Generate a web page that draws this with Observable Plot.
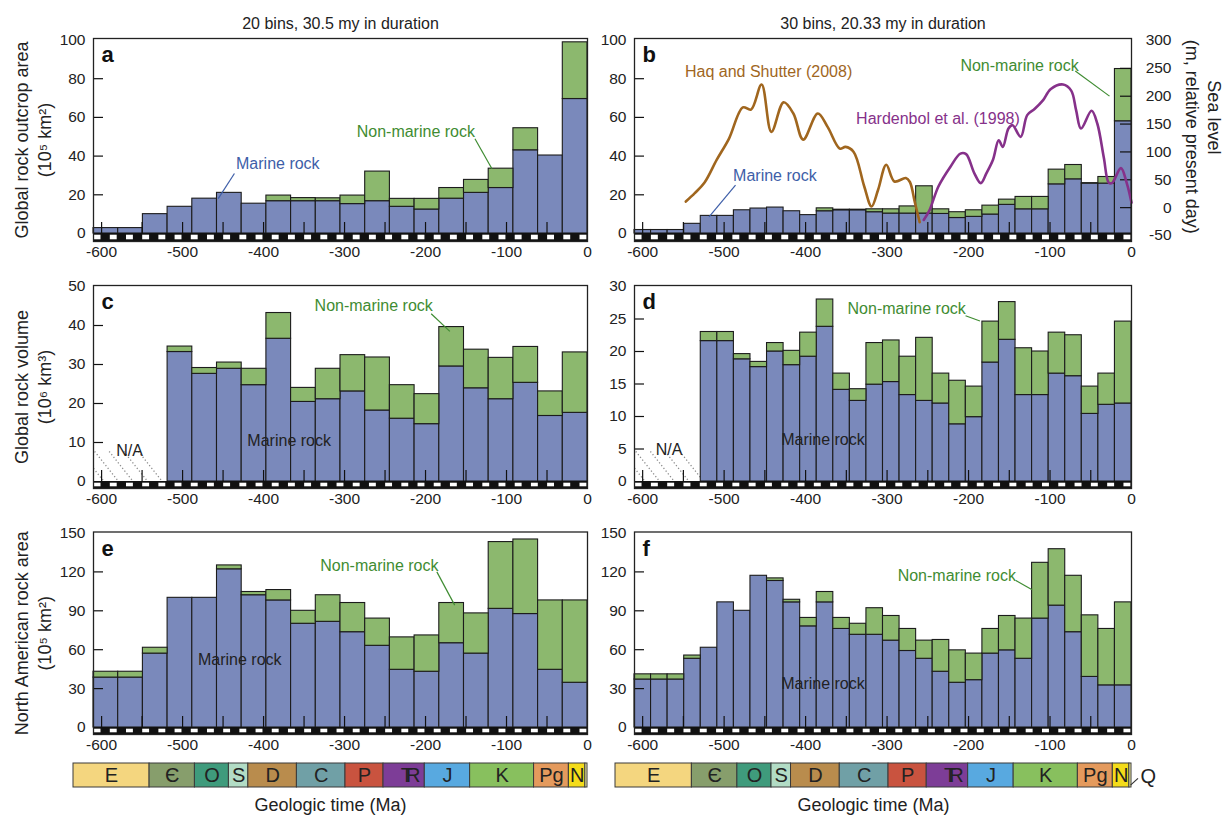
<!DOCTYPE html>
<html><head><meta charset="utf-8">
<script src="https://cdn.jsdelivr.net/npm/d3@7"></script>
<script src="https://cdn.jsdelivr.net/npm/@observablehq/plot@0.6"></script>
<style>
html,body{margin:0;padding:0;background:#fff;}
#fig{position:relative;width:1230px;height:824px;overflow:hidden;background:#fff;}
#fig svg{position:absolute;max-width:none;}
</style></head><body><div id="fig"></div>
<script>
// ---------------- DATA ----------------
const START = -610;           // Ma, start of binned interval (610 my total)
// Panel a: 20 bins (30.5 my) global outcrop area, 10^5 km^2
const aMarine = [2.8,2.8,10,13.8,18,21,15.4,16.7,16.7,16.7,15.2,16.7,13.8,12.4,18,21,23.5,43,40.3,69.5];
const aTotal  = [2.8,2.8,10,13.8,18,21,15.4,19.6,18.3,18.2,19.6,32,17.9,17.9,23.5,27.7,33.5,54.4,40.3,98.8];
// Panel b: 30 bins (20.33 my)
const bMarine = [1.8,1.8,1.8,5,9.1,9.1,12,12.9,13.4,11.5,9.5,11.5,12,12,11,10.3,10.3,10.3,10.1,8,8.6,9.8,14.8,12.5,12.5,25.4,28,25.8,25.8,58];
const bTotal  = [1.8,1.8,1.8,5,9.1,9.1,12,12.9,13.4,11.5,9.5,13,12.3,12.3,12.5,12.5,14,24.4,12.5,11,12,14.4,17.5,18.9,18.9,33,35.4,26,29.2,85];
// Panel c: global rock volume, 10^6 km^3 (first bins N/A)
const cMarine = [null,null,null,33.2,27.6,28.9,24.7,36.6,20.4,21.1,23.1,18.2,16.1,14.7,29.5,23.9,21.1,25.3,16.8,17.6];
const cTotal  = [null,null,null,34.6,29.1,30.5,28.9,43.2,24,28.9,32.4,31.8,24.7,22.4,39.6,33.8,31.7,34.5,23.1,33.1];
// Panel d
const dMarine = [null,null,null,null,21.6,21.6,18.8,17.6,20,17.9,19.2,23.8,14.1,12.4,14.9,15.3,13.3,12.4,12,8.8,9.9,18.3,21.8,13.3,13.3,16.6,16.2,10.4,11.8,12];
const dTotal  = [null,null,null,null,23,23,19.6,18.4,21.3,20.1,22.9,28,16.6,14.2,21.3,21.7,19.2,22.1,16.6,15.5,14.6,24.6,27.6,20.5,20,22.9,22.5,14.6,16.6,24.6];
// Panel e: North American rock area, 10^5 km^2
const eMarine = [38.5,38.5,57,100,100,122,102,98,80,81.5,73.5,63,44.5,43,65,57,91.5,87.5,44.5,34.5];
const eTotal  = [43,43,61.5,100,100,125,104.5,106,90,102,96,84,69.5,71,96,88,143,145,98,98];
// Panel f
const fMarine = [37,37,37,53,61.5,96.5,90,117,113,96.5,78,96.5,76,71.5,71.5,67,59,53,43,34.5,36.5,57,59.5,53,84,94,73.5,39,32.5,32.5];
const fTotal  = [41,41,41,55.5,61.5,96.5,90,117,115,98.5,84.5,104.5,84.5,80,92,86,76,67,67.5,59.5,57,76,86,84,127,137.5,117,86.5,76,96.5];
// Sea level curves (m, relative to present day)
const haqMa = [-547,-536,-524,-509,-494,-477,-467,-454,-442,-427,-415,-403,-385,-373,-358,-351,-341,-328,-319,-311,-301,-291,-277,-272,-266,-260];
const haqSL = [11,26,45,86,124,180,176,221,136,189,169,122,169,145,106,109,100,38,2,32,77,47,53,46,10,-26];
const hardMa = [-255,-248,-237,-222,-210,-203,-193,-185,-178,-170,-163,-158,-151,-146,-136,-128,-119,-109,-99,-84,-74,-68,-62,-49,-42,-34,-28,-24,-13,-6,0];
const hardSL = [-22,-5,38,74,97,96,62,44,62,86,121,109,142,148,127,166,177,192,213,221,210,175,142,174,151,90,45,44,71,45,9];
// Ticks
const xTicks = [-600,-500,-400,-300,-200,-100,0];
const xMinorTicks = [-600,-550,-500,-450,-400,-350,-300,-250,-200,-150,-100,-50];
const slTicks = [300,250,200,150,100,50,0,-50];
// Geologic timescale
const periodNames  = ["E","Є","O","S","D","C","P","TR","J","K","Pg","N","Q"];
const periodStart  = [-635,-541,-485,-443,-419,-359,-299,-252,-201,-145,-66,-23,-2.6];
const periodEnd    = [-541,-485,-443,-419,-359,-299,-252,-201,-145,-66,-23,-2.6,0];
const periodColors = ["#f4d67f","#879e6c","#3f9b7c","#b2dcc5","#b98c4d","#70a0a6","#c9533f","#7d3d97","#58a9e0","#88c05e","#e49a5d","#f4dc1a","#f7f3a8"];

// ---------------- STYLE ----------------
const FONT = '"Liberation Sans", Arial, Helvetica, sans-serif';
const BLUE = "#7a89bb", GREEN = "#8cb86e", EDGE = "#1c1c1c", TXT = "#222";
const MB = "#3e5ea8", NM = "#3f8c32", DK = "#222", HAQ = "#a0661e", HARD = "#86318a";

// annotation anchors (data coordinates)
const aNotes = [{t:"Marine rock",x:-434,y:36,c:MB},{t:"Non-marine rock",x:-285,y:52.4,c:NM}];
const aLeads = [{x1:-436,y1:31,x2:-456,y2:18,c:MB},{x1:-139,y1:49,x2:-118,y2:33.5,c:NM}];
const bNotes = [{t:"Haq and Shutter (2008)",x:-548,y:83.3,c:HAQ},{t:"Hardenbol et al. (1998)",x:-338,y:59.3,c:HARD},{t:"Non-marine rock",x:-210,y:86.8,c:NM},{t:"Marine rock",x:-489,y:30,c:MB}];
const bLeads = [{x1:-69,y1:84,x2:-27,y2:71,c:NM},{x1:-486,y1:25,x2:-518.5,y2:8.6,c:MB}];
const cNotes = [{t:"Non-marine rock",x:-337,y:45,c:NM},{t:"Marine rock",x:-420,y:10.3,c:DK},{t:"N/A",x:-582,y:7.9,c:DK}];
const cLeads = [{x1:-193,y1:43,x2:-170,y2:38.5,c:NM}];
const dNotes = [{t:"Non-marine rock",x:-348.5,y:26.6,c:NM},{t:"Marine rock",x:-430,y:6.4,c:DK},{t:"N/A",x:-584,y:4.9,c:DK}];
const dLeads = [{x1:-203.7,y1:25.5,x2:-186,y2:24.7,c:NM}];
const eNotes = [{t:"Non-marine rock",x:-330,y:125,c:NM},{t:"Marine rock",x:-481,y:52,c:DK}];
const eLeads = [{x1:-186,y1:120,x2:-164,y2:94.4,c:NM}];
const fNotes = [{t:"Non-marine rock",x:-287,y:117,c:NM},{t:"Marine rock",x:-430,y:33.5,c:DK}];
const fLeads = [{x1:-142,y1:113.4,x2:-122,y2:106.2,c:NM}];

// ---------------- LAYOUT ----------------
const cols = {
  left:  {svgLeft: 0,   svgWidth: 600, frameL: 93,  frameR: 587, tsL: 73},
  right: {svgLeft: 600, svgWidth: 630, frameL: 634, frameR: 1131, tsL: 615}
};
const rows = [
  {svgTop: 0,   svgHeight: 262, frameT: 38,    maxY: 39.5,  zeroY: 233, frameB: 241},
  {svgTop: 262, svgHeight: 250, frameT: 285,   maxY: 286,   zeroY: 481, frameB: 488},
  {svgTop: 510, svgHeight: 250, frameT: 531.5, maxY: 532.5, zeroY: 727, frameB: 734}
];
const fig = document.getElementById("fig");
function place(svg, left, top) {
  svg.style.position = "absolute"; svg.style.left = left + "px"; svg.style.top = top + "px";
  fig.appendChild(svg);
}
const baseStyle = {fontFamily: FONT, fontSize: "16px", background: "transparent", overflow: "visible", maxWidth: "none"};
const hatchEnds = [-597, -579, -561, -543, -525];

function panel(cfg) {
  const c = cols[cfg.col], r = rows[cfg.row];
  const n = cfg.marine.length, w = 610 / n;
  const ppu = (r.zeroY - r.maxY) / cfg.yMax;
  const yLo = -(r.frameB - r.zeroY) / ppu, yHi = (r.zeroY - r.frameT) / ppu;
  const pxMa = (c.frameR - c.frameL) / 610;
  const bins = cfg.marine.map((m, i) => ({x1: START + i * w, x2: START + (i + 1) * w, m, t: cfg.total[i]}));
  const present = bins.filter(d => d.m != null);
  const green = present.filter(d => d.t > d.m + 0.05);
  const segs = d3.range(61).map(i => ({x1: START + i * 10, x2: START + (i + 1) * 10})).filter((d, i) => i % 2 === 0);
  const marks = [];
  const nNull = bins.filter(d => d.m == null).length;
  if (nNull > 0) {
    const regionEnd = START + nNull * w, H = 30 / ppu, L = 24 / pxMa;
    const hatch = hatchEnds.map(xe => {
      const xs = xe - L;
      const t0 = Math.max(0, (START - xs) / L), t1 = Math.min(1, (regionEnd - xs) / L);
      return t0 < t1 ? {x1: xs + L * t0, y1: H * (1 - t0), x2: xs + L * t1, y2: H * (1 - t1)} : null;
    }).filter(Boolean);
    marks.push(Plot.link(hatch, {x1: "x1", y1: "y1", x2: "x2", y2: "y2", stroke: "#8a8a8a", strokeWidth: 1.3, strokeDasharray: "1.2,2.3"}));
  }
  marks.push(Plot.rect(present, {x1: "x1", x2: "x2", y1: 0, y2: "m", fill: BLUE, stroke: EDGE, strokeWidth: 1.1}));
  marks.push(Plot.rect(green, {x1: "x1", x2: "x2", y1: "m", y2: "t", fill: GREEN, stroke: EDGE, strokeWidth: 1.1}));
  // black & white time strip
  marks.push(Plot.rect([0], {x1: START, x2: 0, y1: yLo, y2: 0, fill: "#111"}));
  marks.push(Plot.rect(segs, {x1: "x1", x2: "x2", y1: yLo, y2: 0, fill: "white", insetTop: 1.7, insetBottom: 1.7, insetLeft: 0.6, insetRight: 0.6}));
  // inner ticks
  marks.push(Plot.ruleX(xMinorTicks, {x: d => d, y1: 0, y2: 11 / ppu, stroke: "#111", strokeWidth: 1.2}));
  marks.push(Plot.ruleY(cfg.yTicks.filter(v => v > 0 && v < cfg.yMax), {y: d => d, x1: START, x2: START + 10 / pxMa, stroke: "#111", strokeWidth: 1.2}));
  if (cfg.seaLevel) {
    const slToLeft = s => -1.03 + (s + 50) * (100.77 / 350);
    marks.push(Plot.ruleY(slTicks.filter(v => v > -50 && v < 300), {y: slToLeft, x1: -11 / pxMa, x2: 0, stroke: "#111", strokeWidth: 1.2}));
    const haq = haqMa.map((x, i) => ({x, s: haqSL[i]}));
    const hard = hardMa.map((x, i) => ({x, s: hardSL[i]}));
    marks.push(Plot.line(haq, {x: "x", y: d => slToLeft(d.s), stroke: HAQ, strokeWidth: 2.6, curve: "catmull-rom"}));
    marks.push(Plot.line(hard, {x: "x", y: d => slToLeft(d.s), stroke: HARD, strokeWidth: 2.6, curve: "catmull-rom"}));
    marks.push(Plot.text(slTicks, {y: slToLeft, frameAnchor: "right", textAnchor: "end", dx: 40, text: d => String(d), fill: TXT, fontSize: 15.5}));
    marks.push(Plot.text(["Sea level"], {frameAnchor: "right", textAnchor: "middle", y: 60, dx: 82, rotate: 90, text: d => d, fill: TXT, fontSize: 18}));
    marks.push(Plot.text(["(m, relative present day)"], {frameAnchor: "right", textAnchor: "middle", y: 50, dx: 60, rotate: 90, text: d => d, fill: TXT, fontSize: 18}));
  }
  marks.push(Plot.link(cfg.leads, {x1: "x1", y1: "y1", x2: "x2", y2: "y2", stroke: "c", strokeWidth: 1.2}));
  marks.push(Plot.text(cfg.notes, {x: "x", y: "y", text: "t", fill: "c", textAnchor: "start", fontSize: 16}));
  // tick labels
  marks.push(Plot.text(xTicks, {x: d => d, frameAnchor: "bottom", lineAnchor: "top", dy: 4, text: d => String(d), fill: TXT, fontSize: 15.5}));
  marks.push(Plot.text(cfg.yTicks, {y: d => d, frameAnchor: "left", textAnchor: "end", dx: -8, text: d => String(d), fill: TXT, fontSize: 15.5}));
  if (cfg.yTitle) {
    marks.push(Plot.text([cfg.yTitle[0]], {frameAnchor: "left", textAnchor: "middle", dx: -71, rotate: -90, text: d => d, fill: TXT, fontSize: 18}));
    marks.push(Plot.text([cfg.yTitle[1]], {frameAnchor: "left", textAnchor: "middle", dx: -48, rotate: -90, text: d => d, fill: TXT, fontSize: 18}));
  }
  if (cfg.title) marks.push(Plot.text([cfg.title], {frameAnchor: "top", dy: -21, text: d => d, fill: TXT, fontSize: 16}));
  marks.push(Plot.frame({stroke: "#222", strokeWidth: 1.3}));
  marks.push(Plot.text([cfg.letter], {frameAnchor: "top-left", dx: 8, dy: 8, lineAnchor: "top", textAnchor: "start", text: d => d, fill: "#111", fontWeight: "bold", fontSize: 22}));
  const svg = Plot.plot({
    width: c.svgWidth, height: r.svgHeight,
    marginLeft: c.frameL - c.svgLeft, marginRight: c.svgLeft + c.svgWidth - c.frameR,
    marginTop: r.frameT - r.svgTop, marginBottom: r.svgTop + r.svgHeight - r.frameB,
    x: {domain: [START, 0], axis: null},
    y: {domain: [yLo, yHi], axis: null},
    color: {type: "identity"},
    style: baseStyle,
    marks
  });
  place(svg, c.svgLeft, r.svgTop);
}

panel({col: "left", row: 0, yMax: 100, yTicks: [0,20,40,60,80,100], marine: aMarine, total: aTotal, letter: "a",
  title: "20 bins, 30.5 my in duration", yTitle: ["Global rock outcrop area", "(10⁵ km²)"], notes: aNotes, leads: aLeads});
panel({col: "right", row: 0, yMax: 100, yTicks: [0,20,40,60,80,100], marine: bMarine, total: bTotal, letter: "b",
  title: "30 bins, 20.33 my in duration", seaLevel: true, notes: bNotes, leads: bLeads});
panel({col: "left", row: 1, yMax: 50, yTicks: [0,10,20,30,40,50], marine: cMarine, total: cTotal, letter: "c",
  yTitle: ["Global rock volume", "(10⁶ km³)"], notes: cNotes, leads: cLeads});
panel({col: "right", row: 1, yMax: 30, yTicks: [0,5,10,15,20,25,30], marine: dMarine, total: dTotal, letter: "d",
  notes: dNotes, leads: dLeads});
panel({col: "left", row: 2, yMax: 150, yTicks: [0,30,60,90,120,150], marine: eMarine, total: eTotal, letter: "e",
  yTitle: ["North American rock area", "(10⁵ km²)"], notes: eNotes, leads: eLeads});
panel({col: "right", row: 2, yMax: 150, yTicks: [0,30,60,90,120,150], marine: fMarine, total: fTotal, letter: "f",
  notes: fNotes, leads: fLeads});

function timescale(col) {
  const c = cols[col];
  const periods = periodNames.map((name, i) => ({name, x1: periodStart[i], x2: periodEnd[i], mid: (periodStart[i] + periodEnd[i]) / 2, color: periodColors[i]}));
  const labelled = periods.filter(p => p.name !== "Q");
  const marks = [
    Plot.rect(periods, {x1: "x1", x2: "x2", y1: 0, y2: 1, fill: "color", stroke: "#3a3a3a", strokeWidth: 1}),
    Plot.text(labelled, {x: "mid", y: 0.5, text: "name", fill: "#222", fontSize: 20}),
    Plot.text(["Geologic time (Ma)"], {frameAnchor: "bottom", dy: 23, text: d => d, fill: TXT, fontSize: 18})
  ];
  if (col === "right") {
    marks.push(Plot.link([0], {x1: -1.2, y1: 0.1, x2: 8, y2: 0.38, stroke: "#333", strokeWidth: 1.2}));
    marks.push(Plot.text(["Q"], {x: 11, y: 0.45, text: d => d, textAnchor: "start", fill: "#222", fontSize: 20}));
  }
  const svg = Plot.plot({
    width: c.svgWidth, height: 72,
    marginLeft: c.tsL - c.svgLeft, marginRight: c.svgLeft + c.svgWidth - c.frameR,
    marginTop: 11, marginBottom: 37,
    x: {domain: [-635, 0], axis: null},
    y: {domain: [0, 1], axis: null},
    color: {type: "identity"},
    style: baseStyle,
    marks
  });
  // Triassic symbol: T fused with R (tight letter spacing)
  svg.querySelectorAll("text").forEach(t => {
    if (t.textContent === "TR") { t.setAttribute("letter-spacing", "-7"); t.setAttribute("dx", "3"); }
  });
  place(svg, c.svgLeft, 752);
}
timescale("left");
timescale("right");
</script></body></html>
